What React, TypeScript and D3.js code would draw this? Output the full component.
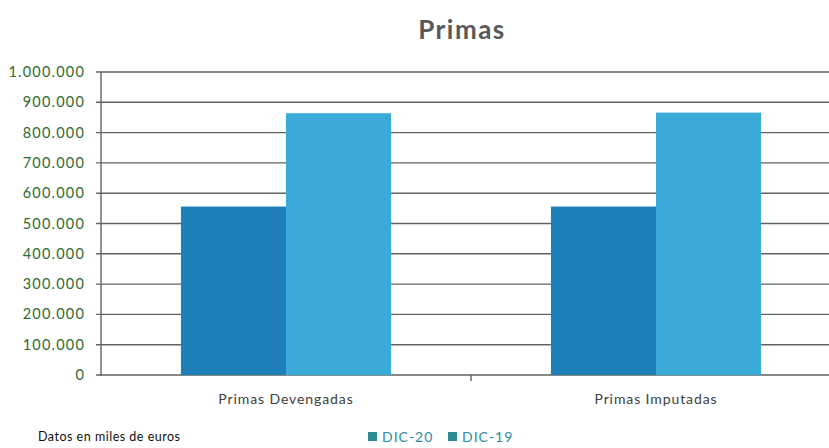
import React from 'react';
import * as d3 from 'd3';

const categories = ['Primas Devengadas', 'Primas Imputadas'];
const series = ['DIC-20', 'DIC-19'];
const dic20 = [556000, 556000];
const dic19 = [864000, 866000];
const yTicks = [0, 100000, 200000, 300000, 400000, 500000, 600000, 700000, 800000, 900000, 1000000];
const colors = ['#1f7fb8', '#3aaad8'];

const W = 829, H = 448;
const font = 'Lato, "Open Sans", sans-serif';

const fmt = (v: number) => String(v).replace(/\B(?=(\d{3})+(?!\d))/g, '.');

const x = d3.scaleBand<string>()
  .domain(categories)
  .range([101, 841])
  .paddingInner(0.432)
  .paddingOuter(0.216);

const xs = d3.scaleBand<string>()
  .domain(series)
  .range([0, x.bandwidth()]);

const y = d3.scaleLinear().domain([0, 1000000]).range([375, 72]);

export default function App() {
  const values = [dic20, dic19];
  return (
    <svg width={W} height={H} style={{ position: 'absolute', left: 0, top: 0, background: '#fff' }}>
      <text x={462} y={39} textAnchor="middle" fontFamily={font} fontWeight="bold" fontSize={26}
        letterSpacing={1.5} fill="#595959">Primas</text>

      {/* gridlines */}
      {yTicks.map(t => (
        <g key={t}>
          <line x1={96} x2={829} y1={y(t)} y2={y(t)} stroke="#5f645f" strokeWidth={1.4} />
          <text x={85} y={y(t)} dy="0.35em" textAnchor="end" fontFamily={font} fontSize={14.5}
            letterSpacing={1.2} fill="#2f6b2f">{fmt(t)}</text>
        </g>
      ))}
      <line x1={101} x2={101} y1={y(1000000)} y2={y(0) + 1} stroke="#5f645f" strokeWidth={1.4} />
      <line x1={471} x2={471} y1={y(0)} y2={y(0) + 6} stroke="#5f645f" strokeWidth={1.4} />

      {/* bars */}
      {categories.map((c, i) => (
        <g key={c}>
          {series.map((s, j) => (
            <rect key={s}
              x={(x(c) ?? 0) + (xs(s) ?? 0)}
              y={y(values[j][i])}
              width={xs.bandwidth()}
              height={y(0) - y(values[j][i])}
              fill={colors[j]} />
          ))}
          <text x={(x(c) ?? 0) + x.bandwidth() / 2} y={404} textAnchor="middle"
            fontFamily={font} fontSize={14} letterSpacing={0.9} fill="#404040">{c}</text>
        </g>
      ))}

      <text x={38} y={441} fontFamily={font} fontSize={12.5} letterSpacing={0.5} fill="#111">Datos en miles de euros</text>

      {/* legend */}
      {series.map((s, j) => (
        <g key={s} transform={`translate(${368 + j * 80},432)`}>
          <rect x={0} y={0} width={9} height={9} fill="#2e8b8f" />
          <text x={14} y={10} fontFamily={font} fontSize={14} letterSpacing={1} fill="#2e8b9a">{s}</text>
        </g>
      ))}
    </svg>
  );
}
